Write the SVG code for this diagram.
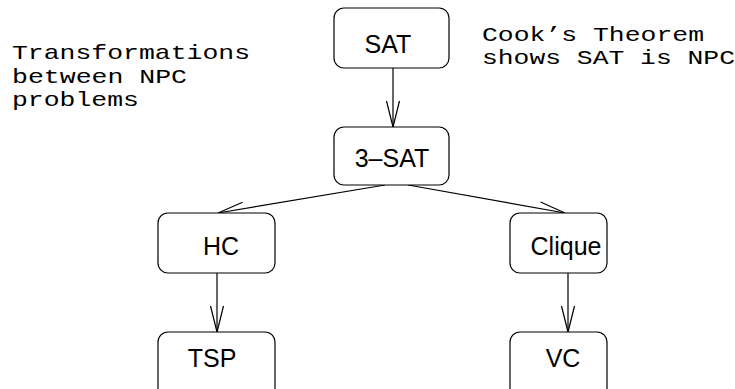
<svg xmlns="http://www.w3.org/2000/svg" width="735" height="389" viewBox="0 0 735 389">
  <defs>
    <style>
      .box { fill: #ffffff; stroke: #000000; stroke-width: 1.2; }
      .lbl { font-family: "Liberation Sans", Arial, Helvetica, sans-serif; font-size: 25px; fill: #000000; text-anchor: middle; }
      .note { font-family: "Liberation Mono", "Courier New", monospace; font-size: 21px; fill: #000000; }
      .edge { fill: none; stroke: #000000; stroke-width: 1.2; }
    </style>
    <marker id="vhead" viewBox="-28 -8 30 16" refX="0" refY="0" markerWidth="30" markerHeight="16" markerUnits="userSpaceOnUse" orient="auto">
      <path d="M-26,-6.5 L0,0 L-26,6.5" fill="none" stroke="#000000" stroke-width="1.2"/>
    </marker>
  </defs>
  <rect width="735" height="389" fill="#ffffff"/>

  <!-- annotations -->
  <g id="note-left">
    <text class="note" x="12" y="59" textLength="238" lengthAdjust="spacingAndGlyphs">Transformations</text>
    <text class="note" x="12" y="82.5" textLength="175" lengthAdjust="spacingAndGlyphs">between NPC</text>
    <text class="note" x="12" y="106" textLength="127" lengthAdjust="spacingAndGlyphs">problems</text>
  </g>
  <g id="note-right">
    <text class="note" x="482" y="41" textLength="222" lengthAdjust="spacingAndGlyphs">Cook’s Theorem</text>
    <text class="note" x="482" y="64" textLength="253" lengthAdjust="spacingAndGlyphs">shows SAT is NPC</text>
  </g>

  <!-- connectors -->
  <g id="connectors">
    <line class="edge" x1="393" y1="68" x2="393" y2="127" marker-end="url(#vhead)"/>
    <line class="edge" x1="385" y1="185" x2="218" y2="213" marker-end="url(#vhead)"/>
    <line class="edge" x1="408" y1="185" x2="565" y2="213" marker-end="url(#vhead)"/>
    <line class="edge" x1="217" y1="273" x2="217" y2="332" marker-end="url(#vhead)"/>
    <line class="edge" x1="568" y1="273" x2="568" y2="332" marker-end="url(#vhead)"/>
  </g>

  <!-- nodes -->
  <g id="sat">
    <rect class="box" x="334" y="8" width="115" height="60" rx="10"/>
    <text class="lbl" x="388" y="53">SAT</text>
  </g>
  <g id="three-sat">
    <rect class="box" x="334" y="127" width="115" height="58" rx="10"/>
    <text class="lbl" x="392" y="167">3–SAT</text>
  </g>
  <g id="hc">
    <rect class="box" x="158" y="213" width="117" height="60" rx="10"/>
    <text class="lbl" x="221" y="255">HC</text>
  </g>
  <g id="clique">
    <rect class="box" x="510" y="213" width="97" height="60" rx="10"/>
    <text class="lbl" x="566" y="255">Clique</text>
  </g>
  <g id="tsp">
    <rect class="box" x="158" y="332" width="117" height="70" rx="10"/>
    <text class="lbl" x="212" y="367">TSP</text>
  </g>
  <g id="vc">
    <rect class="box" x="510" y="332" width="97" height="70" rx="10"/>
    <text class="lbl" x="563" y="367">VC</text>
  </g>
</svg>
